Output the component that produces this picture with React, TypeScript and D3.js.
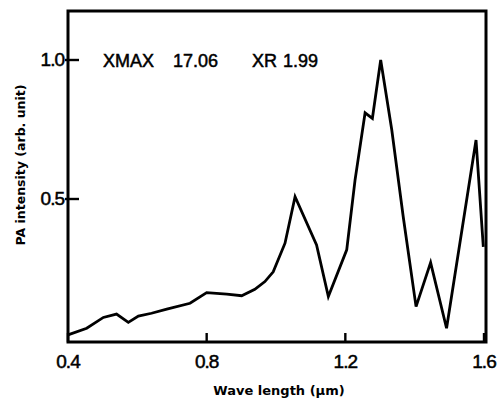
import React, { useEffect, useRef } from "react";
import * as d3 from "d3";

// wavelength (µm)
const waveLength = [
  0.40, 0.454, 0.502, 0.540, 0.574, 0.603, 0.641, 0.685, 0.752, 0.800,
  0.858, 0.901, 0.939, 0.968, 0.992, 1.026, 1.055, 1.117, 1.151, 1.204,
  1.228, 1.257, 1.278, 1.302, 1.334, 1.367, 1.404, 1.446, 1.492, 1.577,
  1.598,
];

// PA intensity (arb. unit)
const intensity = [
  0.011, 0.035, 0.074, 0.086, 0.056, 0.079, 0.089, 0.104, 0.125, 0.163,
  0.158, 0.152, 0.175, 0.203, 0.238, 0.341, 0.508, 0.335, 0.149, 0.317,
  0.568, 0.810, 0.790, 1.0, 0.748, 0.436, 0.113, 0.271, 0.035, 0.712,
  0.328,
];

const xTicks = [0.4, 0.8, 1.2, 1.6];
const xTickLabels = ["0.4", "0.8", "1.2", "1.6"];
const yTicks = [0.5, 1.0];
const yTickLabels = ["0.5", "1.0"];

const annotation = [
  { text: "XMAX", x: 0.501 },
  { text: "17.06", x: 0.703 },
  { text: "XR", x: 0.931 },
  { text: "1.99", x: 1.02 },
];

const App = () => {
  const svgRef = useRef<SVGSVGElement>(null);

  useEffect(() => {
    const svg = d3.select(svgRef.current);
    svg.selectAll("*").remove();

    const left = 68, right = 486, top = 11, bottom = 342;

    const x = d3.scaleLinear().domain([0.4, 1.6]).range([left, 484]);
    const y = d3.scaleLinear().domain([0, 1]).range([338, 60]);

    const data = waveLength.map((w, i) => ({ w, v: intensity[i] }));

    // frame
    svg.append("rect")
      .attr("x", left).attr("y", top)
      .attr("width", right - left).attr("height", bottom - top)
      .attr("fill", "none").attr("stroke", "#000").attr("stroke-width", 3);

    // x ticks (inward)
    svg.selectAll(".xt")
      .data(xTicks)
      .enter()
      .append("line")
      .attr("x1", d => x(d)).attr("x2", d => x(d))
      .attr("y1", bottom).attr("y2", bottom - 9)
      .attr("stroke", "#000").attr("stroke-width", 2.4);

    svg.selectAll(".xl")
      .data(xTicks)
      .enter()
      .append("text")
      .attr("x", d => x(d))
      .attr("y", 368)
      .attr("text-anchor", "middle")
      .style("font-family", "'Liberation Sans', sans-serif")
      .style("font-size", "19px")
      .style("letter-spacing", "-1px")
      .style("stroke", "#000").style("stroke-width", 0.5)
      .text((d, i) => xTickLabels[i]);

    // y ticks
    svg.selectAll(".yt")
      .data(yTicks)
      .enter()
      .append("line")
      .attr("x1", left - 3).attr("x2", left + 11)
      .attr("y1", d => y(d)).attr("y2", d => y(d))
      .attr("stroke", "#000").attr("stroke-width", 2.4);

    svg.selectAll(".yl")
      .data(yTicks)
      .enter()
      .append("text")
      .attr("x", 64)
      .attr("y", d => y(d) + 6)
      .attr("text-anchor", "end")
      .style("font-family", "'Liberation Sans', sans-serif")
      .style("font-size", "19px")
      .style("letter-spacing", "-1px")
      .style("stroke", "#000").style("stroke-width", 0.5)
      .text((d, i) => yTickLabels[i]);

    // curve
    const line = d3.line<{ w: number; v: number }>()
      .x(d => x(d.w))
      .y(d => y(d.v));

    svg.append("path")
      .datum(data)
      .attr("d", line)
      .attr("fill", "none")
      .attr("stroke", "#000")
      .attr("stroke-width", 2.8)
      .attr("stroke-linejoin", "miter");

    // annotation
    svg.selectAll(".ann")
      .data(annotation)
      .enter()
      .append("text")
      .attr("x", d => x(d.x))
      .attr("y", y(1) + 7)
      .style("font-family", "'Liberation Sans', sans-serif")
      .style("font-size", "18px")
      .style("stroke", "#000").style("stroke-width", 0.5)
      .text(d => d.text);

    // axis titles
    svg.append("text")
      .attr("x", 279)
      .attr("y", 395)
      .attr("text-anchor", "middle")
      .style("font-family", "'DejaVu Sans', sans-serif")
      .style("font-weight", "bold")
      .style("font-size", "13px")
      .text("Wave length (\u03bcm)");

    svg.append("text")
      .attr("transform", "translate(25,165) rotate(-90)")
      .attr("text-anchor", "middle")
      .style("font-family", "'DejaVu Sans', sans-serif")
      .style("font-weight", "bold")
      .style("font-size", "12.5px")
      .text("PA intensity (arb. unit)");
  }, []);

  return (
    <svg
      ref={svgRef}
      width={499}
      height={404}
      style={{ position: "absolute", left: 0, top: 0, background: "#fff" }}
    />
  );
};

export default App;
